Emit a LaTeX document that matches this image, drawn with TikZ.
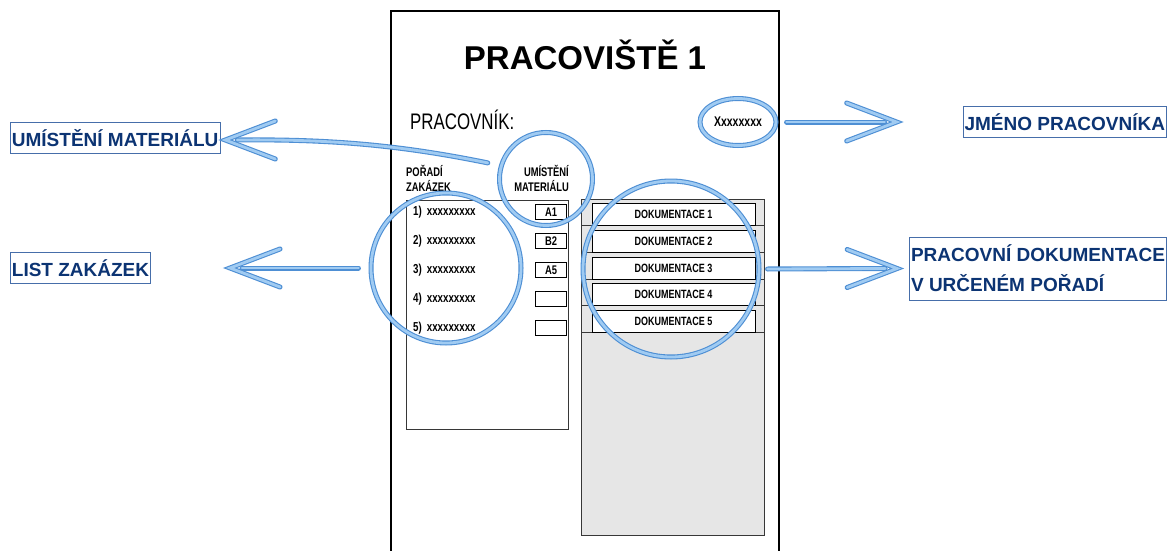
\documentclass[tikz,border=0pt]{standalone}
\usepackage{fontspec}
\setmainfont{Liberation Sans}
\newfontfamily\narrowfont{Liberation Sans}[FakeStretch=0.75]
\usepackage{tikz}
\usetikzlibrary{shapes.geometric, calc}
\definecolor{ringblue}{RGB}{78,143,212}
\definecolor{ringlight}{RGB}{160,203,242}
\definecolor{labelnavy}{RGB}{12,52,115}
\definecolor{labelframe}{RGB}{70,110,170}
\definecolor{panelgray}{RGB}{230,230,230}
\definecolor{edgegray}{RGB}{55,55,55}
\tikzset{
  sidelabel/.style={draw=labelframe, line width=0.8pt, text=labelnavy,
    font=\fontsize{19}{30}\selectfont\bfseries, inner xsep=1.5pt,
    inner ysep=0pt, minimum height=31pt, align=left},
  ringline/.style={draw=ringblue, double=ringlight, double distance=2.8pt,
    line width=1.1pt},
  ring/.style={ringline, circle, inner sep=0pt},
  hollow/.style={ringline, line cap=round},
  head/.style={font=\narrowfont\fontsize{12.5}{15}\selectfont\bfseries,
    inner sep=0pt},
  item/.style={font=\narrowfont\fontsize{13}{15}\selectfont\bfseries,
    anchor=west, inner sep=0pt},
  slot/.style={draw, line width=0.8pt, minimum width=31pt, minimum height=15pt,
    inner sep=0pt, font=\narrowfont\fontsize{12.5}{14}\selectfont\bfseries},
  docbox/.style={draw, line width=0.8pt, fill=white, minimum width=163pt,
    minimum height=22pt, inner sep=0pt,
    font=\narrowfont\fontsize{12}{14}\selectfont\bfseries},
  sheetbox/.style={draw=edgegray, line width=1.2pt, inner sep=0pt,
    anchor=north west},
}

\begin{document}
\begin{tikzpicture}[x=1pt, y=-1pt]
  \useasboundingbox (0,0) rectangle (1173,551);
  % Workplace sheet
  \draw[line width=1.1pt] (391,551) -- (391,11) -- (779,11) -- (779,551);
  \node[font=\fontsize{33}{36}\selectfont\bfseries] (title) at (585,55)
    {PRACOVIŠTĚ 1};
  \node[font=\narrowfont\fontsize{22.5}{26}\selectfont, anchor=west,
        inner sep=0pt] (worker) at (410,120) {PRACOVNÍK:};
  \node[head, align=left, anchor=north west] (orderhead) at (406,165)
    {POŘADÍ\\ZAKÁZEK};
  \node[head, align=right, anchor=north east] (mathead) at (569,165)
    {UMÍSTĚNÍ\\MATERIÁLU};
  % Order list
  \node[sheetbox, minimum width=162pt, minimum height=229pt] (orders)
    at (406,200) {};
  \foreach \i/\code in {1/A1,2/B2,3/A5,4/{},5/{}} {
    \node[item] (ord\i) at (413,183+29*\i) {\i)\hspace{5pt}xxxxxxxxx};
    \node[slot] (slot\i) at (551,183+29*\i) {\code};
  }
  % Documentation panel
  \node[sheetbox, fill=panelgray, minimum width=183pt, minimum height=336pt]
    (docs) at (581,199) {};
  \foreach \i in {1,...,5} {
    \draw[edgegray, line width=0.8pt] ($(docs.north west)+(0,26.7*\i)$)
      -- ($(docs.north east)+(0,26.7*\i)$);
    \node[docbox] (doc\i) at (673.5,188+26.7*\i) {DOKUMENTACE \i};
  }
  % Highlight rings
  \node[ring, minimum size=93pt] (matRing) at (546,179) {};
  \node[ring, minimum size=150pt] (listRing) at (446,268) {};
  \node[ring, minimum size=176pt] (docRing) at (671,269) {};
  \node[ringline, ellipse, minimum width=76pt, minimum height=47pt,
        inner sep=0pt, font=\narrowfont\fontsize{14}{16}\selectfont\bfseries]
    (nameRing) at (738,122) {Xxxxxxxx};
  % Side labels
  \node[sidelabel, anchor=west] (labMat) at (10,138) {UMÍSTĚNÍ MATERIÁLU};
  \node[sidelabel, anchor=west] (labList) at (10,268) {LIST ZAKÁZEK};
  \node[sidelabel, anchor=east] (labName) at (1167,122) {JMÉNO PRACOVNÍKA};
  \node[sidelabel, anchor=east, minimum height=63pt] (labDoc) at (1167,268.5)
    {PRACOVNÍ DOKUMENTACE\\V URČENÉM POŘADÍ};
  % Arrows
  \coordinate (matTip) at ($(labMat.east)+(5,2)$);
  \coordinate (listTip) at ($(labList.east)+(79,0)$);
  \coordinate (nameTip) at ($(labName.west)+(-66,0)$);
  \coordinate (docTip) at ($(labDoc.west)+(-12,0)$);
  \draw[hollow] ($(matRing.160)+(-14,0)$) .. controls (400,145) and (330,139)
    .. ($(matTip)+(12,0)$);
  \draw[hollow] ($(listRing.west)+(-12,0)$) -- ($(listTip)+(12,0)$);
  \draw[hollow] ($(nameRing.east)+(10,0)$) -- ($(nameTip)+(-12,0)$);
  \draw[hollow] ($(docRing.east)+(8,0)$) -- ($(docTip)+(-12,0)$);
  \foreach \tip/\dir in {matTip/1,listTip/1,nameTip/-1,docTip/-1}
    \draw[hollow] ($(\tip)+(50*\dir,-19)$) -- (\tip) -- ($(\tip)+(50*\dir,19)$);
\end{tikzpicture}
\end{document}
